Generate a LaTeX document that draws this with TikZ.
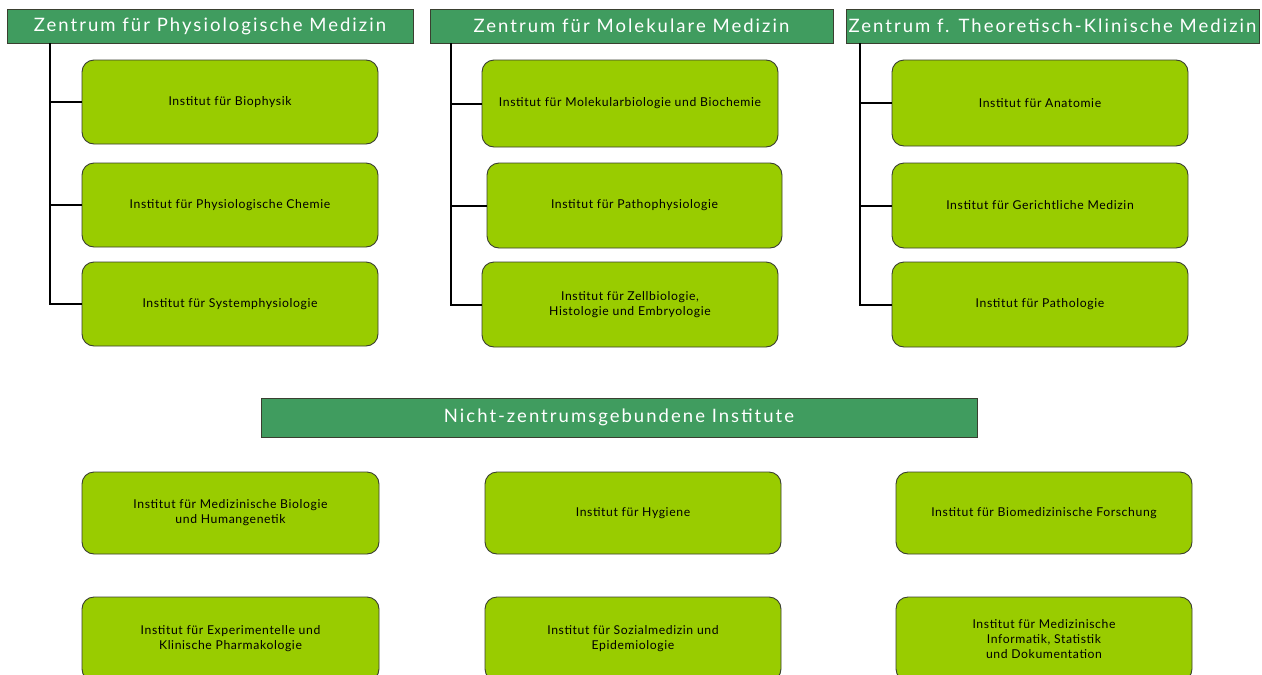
\documentclass[tikz,border=0pt]{standalone}
\usepackage{fontspec}
\setmainfont{Lato}
\newfontfamily\hdrfont[LetterSpace=11]{Lato}
\newfontfamily\instfont[LetterSpace=5]{Lato}
\definecolor{hdrgreen}{HTML}{409C5F}
\definecolor{lime}{HTML}{99CC00}
\definecolor{edge}{HTML}{3A3F30}
\begin{document}
\begin{tikzpicture}[x=1pt,y=-1pt,
  hdr/.style={draw=edge, line width=1pt, fill=hdrgreen, text=white, inner sep=0pt,
    minimum height=34pt, font=\hdrfont\fontsize{18.5}{20}\selectfont},
  inst/.style={draw=edge, line width=0.9pt, fill=lime, rounded corners=12pt, inner sep=0pt,
    minimum width=296pt, minimum height=84pt, align=center,
    font=\instfont\fontsize{12.2}{15}\selectfont},
  branch/.style={draw=black, line width=2pt}]
\useasboundingbox (0,0) rectangle (1262,675);
\clip (0,0) rectangle (1262,675);
\fill[white] (0,0) rectangle (1262,675);

% centre headers
\node[hdr, minimum width=406pt] (h1) at (210,26) {Zentrum für Physiologische Medizin};
\node[hdr, minimum width=403pt] (h2) at (631.5,26) {Zentrum für Molekulare Medizin};
\node[hdr, minimum width=413pt] (h3) at (1052.5,26) {Zentrum f. Theoretisch-Klinische Medizin};

% institutes of the first centre
\node[inst] (b1) at (230,102) {Institut für Biophysik};
\node[inst] (b2) at (230,205) {Institut für Physiologische Chemie};
\node[inst] (b3) at (230,304) {Institut für Systemphysiologie};

% institutes of the second centre
\node[inst, minimum height=87pt] (m1) at (630,103.5) {Institut für Molekularbiologie und Biochemie};
\node[inst, minimum width=295pt, minimum height=85pt] (m2) at (634.5,205.5) {Institut für Pathophysiologie};
\node[inst, minimum height=85pt] (m3) at (630,304.5) {Institut für Zellbiologie,\\Histologie und Embryologie};

% institutes of the third centre
\node[inst, minimum height=86pt] (a1) at (1040,103) {Institut für Anatomie};
\node[inst, minimum height=85pt] (a2) at (1040,205.5) {Institut für Gerichtliche Medizin};
\node[inst, minimum height=85pt] (a3) at (1040,304.5) {Institut für Pathologie};

% tree connectors
\coordinate (t1) at (50,43);
\coordinate (t2) at (451,43);
\coordinate (t3) at (860,43);
\draw[branch] (t1) |- (b3.west);
\draw[branch] (t1 |- b1.west) -- (b1.west);
\draw[branch] (t1 |- b2.west) -- (b2.west);
\draw[branch] (t2) |- (m3.west);
\draw[branch] (t2 |- m1.west) -- (m1.west);
\draw[branch] (t2 |- m2.west) -- (m2.west);
\draw[branch] (t3) |- (a3.west);
\draw[branch] (t3 |- a1.west) -- (a1.west);
\draw[branch] (t3 |- a2.west) -- (a2.west);

% institutes not bound to a centre
\node[hdr, minimum width=716pt, minimum height=39pt] (h4) at (619,417.5) {Nicht-zentrumsgebundene Institute};

\node[inst, minimum width=297pt, minimum height=82pt] (n1) at (230.5,513) {Institut für Medizinische Biologie\\und Humangenetik};
\node[inst, minimum height=82pt] (n2) at (633,513) {Institut für Hygiene};
\node[inst, minimum height=82pt] (n3) at (1044,513) {Institut für Biomedizinische Forschung};

\node[inst, minimum width=297pt, minimum height=84pt] (n4) at (230.5,639) {Institut für Experimentelle und\\Klinische Pharmakologie};
\node[inst, minimum height=84pt] (n5) at (633,639) {Institut für Sozialmedizin und\\Epidemiologie};
\node[inst, minimum height=84pt] (n6) at (1044,639) {Institut für Medizinische\\Informatik, Statistik\\und Dokumentation};
\end{tikzpicture}
\end{document}
